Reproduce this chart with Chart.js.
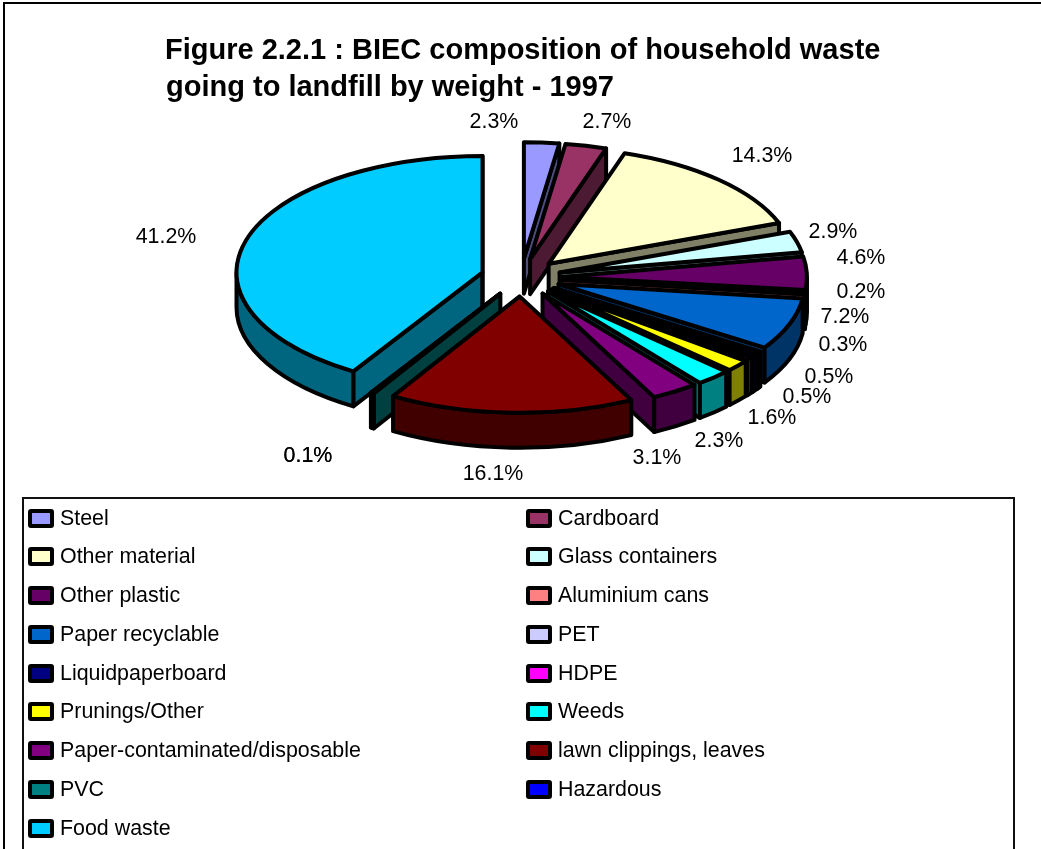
<!DOCTYPE html>
<html>
<head>
<meta charset="utf-8">
<title>BIEC composition of household waste</title>
<script src="https://cdn.jsdelivr.net/npm/chart.js@4/dist/chart.umd.min.js"></script>
<style>
  html, body { margin: 0; padding: 0; background: #fff; }
  body { position: relative; width: 1041px; height: 849px; overflow: hidden; font-family: "Liberation Sans", Arial, sans-serif; color: #000; }
  #frame { position: absolute; left: 3px; top: 2px; width: 1045px; height: 860px; border: 2px solid #000; box-sizing: border-box; }
  #chart { position: absolute; left: 0; top: 0; }
  h1 { position: absolute; margin: 0; font-size: 29px; line-height: 39px; font-weight: bold; white-space: nowrap; }
  #legend { position: absolute; left: 22px; top: 497px; width: 993px; height: 370px; box-sizing: border-box; border: 2px solid #111; }
  #legend .row { position: absolute; display: flex; align-items: center; height: 30px; font-size: 21.4px; white-space: nowrap; }
  #legend .box { width: 26px; height: 19px; box-sizing: border-box; border: 4px solid #000; border-radius: 3px; margin-right: 6px; }
</style>
</head>
<body>
<div id="frame"></div>
<canvas id="chart" width="1041" height="849"></canvas>
<h1 style="left:165px;top:30px">Figure 2.2.1 : BIEC composition of household waste</h1>
<h1 style="left:166px;top:67px">going to landfill by weight - 1997</h1>
<div id="legend"></div>
<script>
const categories = [
  "Steel", "Cardboard", "Other material", "Glass containers", "Other plastic",
  "Aluminium cans", "Paper recyclable", "PET", "Liquidpaperboard", "HDPE",
  "Prunings/Other", "Weeds", "Paper-contaminated/disposable", "lawn clippings, leaves",
  "PVC", "Hazardous", "Food waste"
];
const shares = [2.3, 2.7, 14.3, 2.9, 4.6, 0.2, 7.2, 0.3, 0.5, 0.5, 1.6, 2.3, 3.1, 16.1, 0.1, 0.1, 41.2];
const colours = [
  "#9999FF", "#993366", "#FFFFCC", "#CCFFFF", "#660066", "#FF8080", "#0066CC", "#CCCCFF",
  "#000080", "#FF00FF", "#FFFF00", "#00FFFF", "#800080", "#800000", "#008080", "#0000FF", "#00CCFF"
];

// percent label centres on the canvas, same order as the slices
const labelX = [494, 607, 762, 833, 861, 861, 845, 843, 829, 807, 772, 719, 657, 493, 308, 308, 166];
const labelY = [122, 122, 156, 232, 258, 292, 317, 345, 377, 397, 418, 441, 458, 474, 456, 456, 237];

const TILT = 0.473;     // squash of the pie's top face
const DEPTH = 35;       // height of the side walls
const EXPLODE = 40;     // how far every slice is pulled from the centre
const RADIUS = 246;

function darken(hex){
  const n = parseInt(hex.slice(1), 16);
  const half = v => Math.round(v / 2).toString(16).padStart(2, "0");
  return "#" + half(n >> 16) + half((n >> 8) & 255) + half(n & 255);
}

function strokeFill(ctx, fill){
  ctx.fillStyle = fill;
  ctx.fill();
  ctx.stroke();
}

// One wedge: radial walls and rim first, then the top face over them
function drawWedge(ctx, arc, fill){
  const { x, y, startAngle: a, endAngle: b, outerRadius: r } = arc.getProps(["x", "y", "startAngle", "endAngle", "outerRadius"], true);
  const mid = (a + b) / 2;
  const cx = x + Math.cos(mid) * EXPLODE;
  const cy = y + Math.sin(mid) * EXPLODE * TILT;
  const px = t => cx + Math.cos(t) * r;
  const py = t => cy + Math.sin(t) * r * TILT;
  const wall = darken(fill);

  // the face on the start side looks at the viewer on the left half, the end side on the right
  const radial = t => {
    ctx.beginPath();
    ctx.moveTo(cx, cy);
    ctx.lineTo(px(t), py(t));
    ctx.lineTo(px(t), py(t) + DEPTH);
    ctx.lineTo(cx, cy + DEPTH);
    ctx.closePath();
    strokeFill(ctx, wall);
  };
  if (Math.cos(a) < 0) radial(a);
  if (Math.cos(b) > 0) radial(b);

  // rim, only the part in front of the pie (canvas angles 0 to PI)
  for (const turn of [0, 2 * Math.PI]) {
    const s = Math.max(a, turn), e = Math.min(b, turn + Math.PI);
    if (e > s) {
      ctx.beginPath();
      ctx.ellipse(cx, cy, r, r * TILT, 0, s, e);
      ctx.ellipse(cx, cy + DEPTH, r, r * TILT, 0, e, s, true);
      ctx.closePath();
      strokeFill(ctx, wall);
    }
  }

  ctx.beginPath();
  ctx.moveTo(cx, cy);
  ctx.ellipse(cx, cy, r, r * TILT, 0, a, b);
  ctx.closePath();
  strokeFill(ctx, fill);
}

const tiltedPie = {
  id: "tiltedPie",
  beforeDatasetsDraw(chart){
    const ctx = chart.ctx;
    const arcs = chart.getDatasetMeta(0).data.map((arc, i) => ({ arc, i }));
    // paint from the back of the pie to the front
    arcs.sort((p, q) => Math.sin((p.arc.startAngle + p.arc.endAngle) / 2) - Math.sin((q.arc.startAngle + q.arc.endAngle) / 2));
    ctx.save();
    ctx.strokeStyle = "#000";
    ctx.lineWidth = 4;
    ctx.lineJoin = "round";
    arcs.forEach(({ arc, i }) => drawWedge(ctx, arc, colours[i]));
    ctx.restore();
    return false;
  },
  afterDraw(chart){
    const ctx = chart.ctx;
    ctx.save();
    ctx.font = '21.4px "Liberation Sans", Arial, sans-serif';
    ctx.fillStyle = "#000";
    ctx.textAlign = "center";
    ctx.textBaseline = "middle";
    shares.forEach((v, i) => ctx.fillText(v.toFixed(1) + "%", labelX[i], labelY[i]));
    ctx.restore();
  }
};

new Chart(document.getElementById("chart"), {
  type: "pie",
  data: {
    labels: categories,
    datasets: [{ data: shares, backgroundColor: colours, borderColor: "#000", borderWidth: 4 }]
  },
  options: {
    responsive: false,
    animation: false,
    radius: RADIUS,
    layout: { padding: { left: 1, right: 0, top: 0, bottom: 294 } },
    plugins: { legend: { display: false }, tooltip: { enabled: false } }
  },
  plugins: [tiltedPie]
});

// Two column key under the chart
const legend = document.getElementById("legend");
categories.forEach((name, i) => {
  const row = document.createElement("div");
  row.className = "row";
  row.style.left = (i % 2 ? 502 : 4) + "px";
  row.style.top = (4 + Math.floor(i / 2) * 38.75) + "px";
  const box = document.createElement("span");
  box.className = "box";
  box.style.background = colours[i];
  row.appendChild(box);
  row.appendChild(document.createTextNode(name));
  legend.appendChild(row);
});
</script>
</body>
</html>
